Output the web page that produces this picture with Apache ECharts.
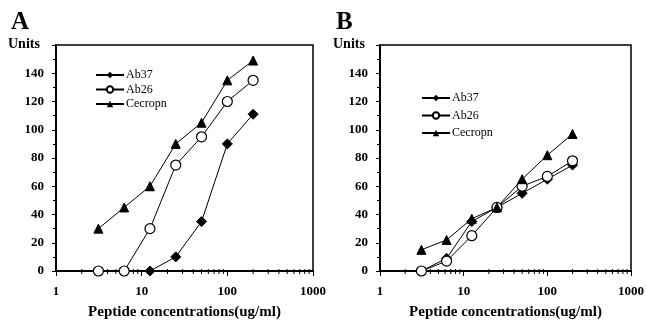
<!DOCTYPE html>
<html><head><meta charset="utf-8">
<script src="https://cdn.jsdelivr.net/npm/echarts@6/dist/echarts.min.js"></script>
<style>html,body{margin:0;padding:0;background:#fff}#c{width:646px;height:321px}</style>
</head><body><div id="c"></div>
<script>
var seriesNames = ['Ab37', 'Ab26', 'Cecropin'];
var legendLabels = ['Ab37', 'Ab26', 'Cecropn'];
var concA_Ab37 = [12.5, 25, 50, 100, 200];
var valsA_Ab37 = [0, 10, 35, 90, 111];
var concA = [3.125, 6.25, 12.5, 25, 50, 100, 200];
var valsA_Ab26 = [0, 0, 30, 75, 95, 120, 135];
var valsA_Cec = [30, 45, 60, 90, 105, 135, 149];
var concB = [3.125, 6.25, 12.5, 25, 50, 100, 200];
var valsB_Ab37 = [0, 9, 35, 45, 55, 65, 75];
var valsB_Ab26 = [0, 7, 25, 45, 60, 67, 78];
var valsB_Cec = [15, 22, 37, 45, 65, 82, 97];
var xMinorTicks = [2,3,4,5,6,7,8,9,20,30,40,50,60,70,80,90,200,300,400,500,600,700,800,900];

function pairs(xs, ys){ return xs.map(function(x,i){return [x, ys[i]];}); }
var FONT = 'Liberation Serif';
var chart = echarts.init(document.getElementById('c'), null, {renderer:'canvas'});

function styles(name){
  if (name === 'Ab37') return {symbol:'diamond', symbolSize:10, itemStyle:{color:'#000', borderColor:'#000'}};
  if (name === 'Ab26') return {symbol:'circle', symbolSize:10, itemStyle:{color:'#fff', borderColor:'#000', borderWidth:1.2}};
  return {symbol:'triangle', symbolSize:9, itemStyle:{color:'#000', borderColor:'#000'}};
}
function lineSeries(name, idx, data){
  var s = styles(name);
  return {type:'line', name:name, xAxisIndex:idx, yAxisIndex:idx, data:data,
    symbol:s.symbol, symbolSize:s.symbolSize, itemStyle:s.itemStyle,
    lineStyle:{color:'#000', width:1}, showAllSymbol:true, animation:false, z:3};
}
function minorSeries(idx){
  return {type:'custom', xAxisIndex:idx, yAxisIndex:idx, clip:false, silent:true, animation:false,
    data: xMinorTicks.map(function(v){return [v, 0];}),
    renderItem:function(params, api){
      var p = api.coord([api.value(0), 0]);
      return {type:'line', shape:{x1:p[0], y1:p[1]-2, x2:p[0], y2:p[1]+3}, style:{stroke:'#000', lineWidth:1}};
    }};
}
function xAxis(idx){
  return {type:'log', logBase:10, min:1, max:1000, gridIndex:idx,
    name:'Peptide concentrations(ug/ml)', nameLocation:'middle', nameGap:34,
    nameTextStyle:{fontFamily:FONT, fontWeight:'bold', fontSize:15, color:'#000'},
    axisLine:{lineStyle:{color:'#000', width:2}},
    axisTick:{show:true, length:5, lineStyle:{color:'#000'}},
    axisLabel:{fontFamily:FONT, fontWeight:'bold', fontSize:13, color:'#000', margin:14,
      formatter:function(v){return String(Math.round(v));}},
    splitLine:{show:false}};
}
function yAxis(idx){
  return {type:'value', min:0, max:160, interval:20, gridIndex:idx,
    axisLine:{show:true, lineStyle:{color:'#000', width:2}},
    axisTick:{show:true, length:4, lineStyle:{color:'#000'}},
    minorTick:{show:true, splitNumber:2, length:3, lineStyle:{color:'#000'}},
    axisLabel:{fontFamily:FONT, fontWeight:'bold', fontSize:13, color:'#000', margin:12,
      formatter:function(v){return v===160?'':String(v);}},
    splitLine:{show:false}};
}
function legend(left, top, gap){
  return {show:true, orient:'vertical', left:left, top:top, itemWidth:28, itemHeight:8, itemGap:gap,
    data: seriesNames.map(function(n){return {name:n};}),
    formatter:function(n){return legendLabels[seriesNames.indexOf(n)];},
    textStyle:{fontFamily:FONT, fontSize:12, color:'#000', padding:[0,0,0,-3]}, padding:0};
}

var option = {
  backgroundColor:'#fff',
  animation:false,
  grid:[
    {left:56, right:333, top:45, bottom:50, outerBoundsMode:'none', containLabel:false, show:true, borderColor:'#000', borderWidth:1.5, backgroundColor:'transparent'},
    {left:380, right:15, top:45, bottom:50, outerBoundsMode:'none', containLabel:false, show:true, borderColor:'#000', borderWidth:1.5, backgroundColor:'transparent'}
  ],
  xAxis:[xAxis(0), xAxis(1)],
  yAxis:[yAxis(0), yAxis(1)],
  legend:[legend(95, 69, 2.5), legend(421, 92, 5.5)],
  series:[
    lineSeries('Ab37', 0, pairs(concA_Ab37, valsA_Ab37)),
    lineSeries('Ab26', 0, pairs(concA, valsA_Ab26)),
    lineSeries('Cecropin', 0, pairs(concA, valsA_Cec)),
    lineSeries('Ab37', 1, pairs(concB, valsB_Ab37)),
    lineSeries('Ab26', 1, pairs(concB, valsB_Ab26)),
    lineSeries('Cecropin', 1, pairs(concB, valsB_Cec)),
    minorSeries(0), minorSeries(1)
  ],
  graphic:[
    {type:'text', left:11, top:10, style:{text:'A', font:'bold 25px "Liberation Serif"', fill:'#000'}},
    {type:'text', left:336, top:10, style:{text:'B', font:'bold 25px "Liberation Serif"', fill:'#000'}},
    {type:'text', left:8, top:37, style:{text:'Units', font:'bold 14px "Liberation Serif"', fill:'#000'}},
    {type:'text', left:333, top:37, style:{text:'Units', font:'bold 14px "Liberation Serif"', fill:'#000'}}
  ]
};
chart.setOption(option);
</script></body></html>
